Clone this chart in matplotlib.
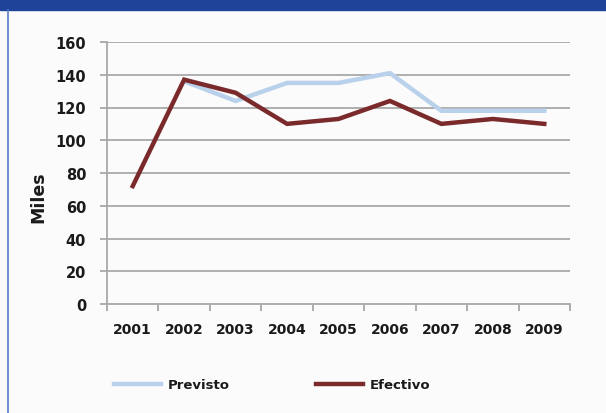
import matplotlib.pyplot as plt
import numpy as np
from matplotlib.patches import Rectangle
from matplotlib.lines import Line2D

# data
years = ["2001", "2002", "2003", "2004", "2005", "2006", "2007", "2008", "2009"]
previsto = [np.nan, 136, 124, 135, 135, 141, 118, 118, 118]
efectivo = [72, 137, 129, 110, 113, 124, 110, 113, 110]
yticks = [0, 20, 40, 60, 80, 100, 120, 140, 160]

plt.rcParams['font.family'] = ['DejaVu Sans']
plt.rcParams['font.weight'] = 'bold'

fig = plt.figure(figsize=(6.06, 4.14), dpi=100)
fig.patch.set_facecolor('#fbfbfb')

# top banner and left border
fig.patches.append(Rectangle((0, 1 - 11 / 414), 1, 11 / 414, transform=fig.transFigure,
                             color='#1f4399', zorder=0))
fig.add_artist(Line2D([7.5 / 606, 7.5 / 606], [0, 1 - 11 / 414], transform=fig.transFigure,
                      color='#5a7bc8', lw=1.2))

ax = fig.add_axes([107 / 606, 1 - 305 / 414, 463 / 606, 262 / 414])
ax.set_facecolor('#fbfbfb')

x = np.arange(len(years))
ax.plot(x, previsto, color='#b9d1ea', lw=3.2, solid_joinstyle='miter', label='Previsto', zorder=3)
ax.plot(x, efectivo, color='#7a2a2a', lw=3.2, solid_joinstyle='miter', label='Efectivo', zorder=4)

ax.set_xlim(-0.5, len(years) - 0.5)
ax.set_ylim(0, 160)
ax.set_yticks(yticks)
ax.set_yticklabels([str(v) for v in yticks])
ax.set_xticks(x)
ax.set_xticklabels(years)
ax.set_xticks(np.arange(-0.5, len(years)), minor=True)

for v in yticks[1:]:
    ax.axhline(v, color='#a8a8a8', lw=1.3, zorder=1)

for s in ['top', 'right']:
    ax.spines[s].set_visible(False)
for s in ['left', 'bottom']:
    ax.spines[s].set_color('#a8a8a8')
    ax.spines[s].set_linewidth(1.3)

ax.tick_params(axis='y', length=5, width=1.3, color='#a8a8a8', labelsize=10.5, pad=10,
               labelcolor='#1a1a1a')
ax.tick_params(axis='x', which='major', length=0, labelsize=10, pad=13, labelcolor='#1a1a1a')
ax.tick_params(axis='x', which='minor', length=5, width=1.3, color='#a8a8a8')

ax.set_ylabel('Miles', fontsize=12.5, fontweight='bold', color='#1a1a1a')
ax.yaxis.set_label_coords(-60 / 463, 0.41)

leg = fig.legend(loc='lower left', bbox_to_anchor=(102 / 606, 1 - 404 / 414), ncol=2,
                 frameon=False, fontsize=9.5, handlelength=3.6, columnspacing=6.5,
                 handletextpad=0.5, labelcolor='#1a1a1a')

plt.savefig('out.png', dpi=100, facecolor=fig.get_facecolor())
